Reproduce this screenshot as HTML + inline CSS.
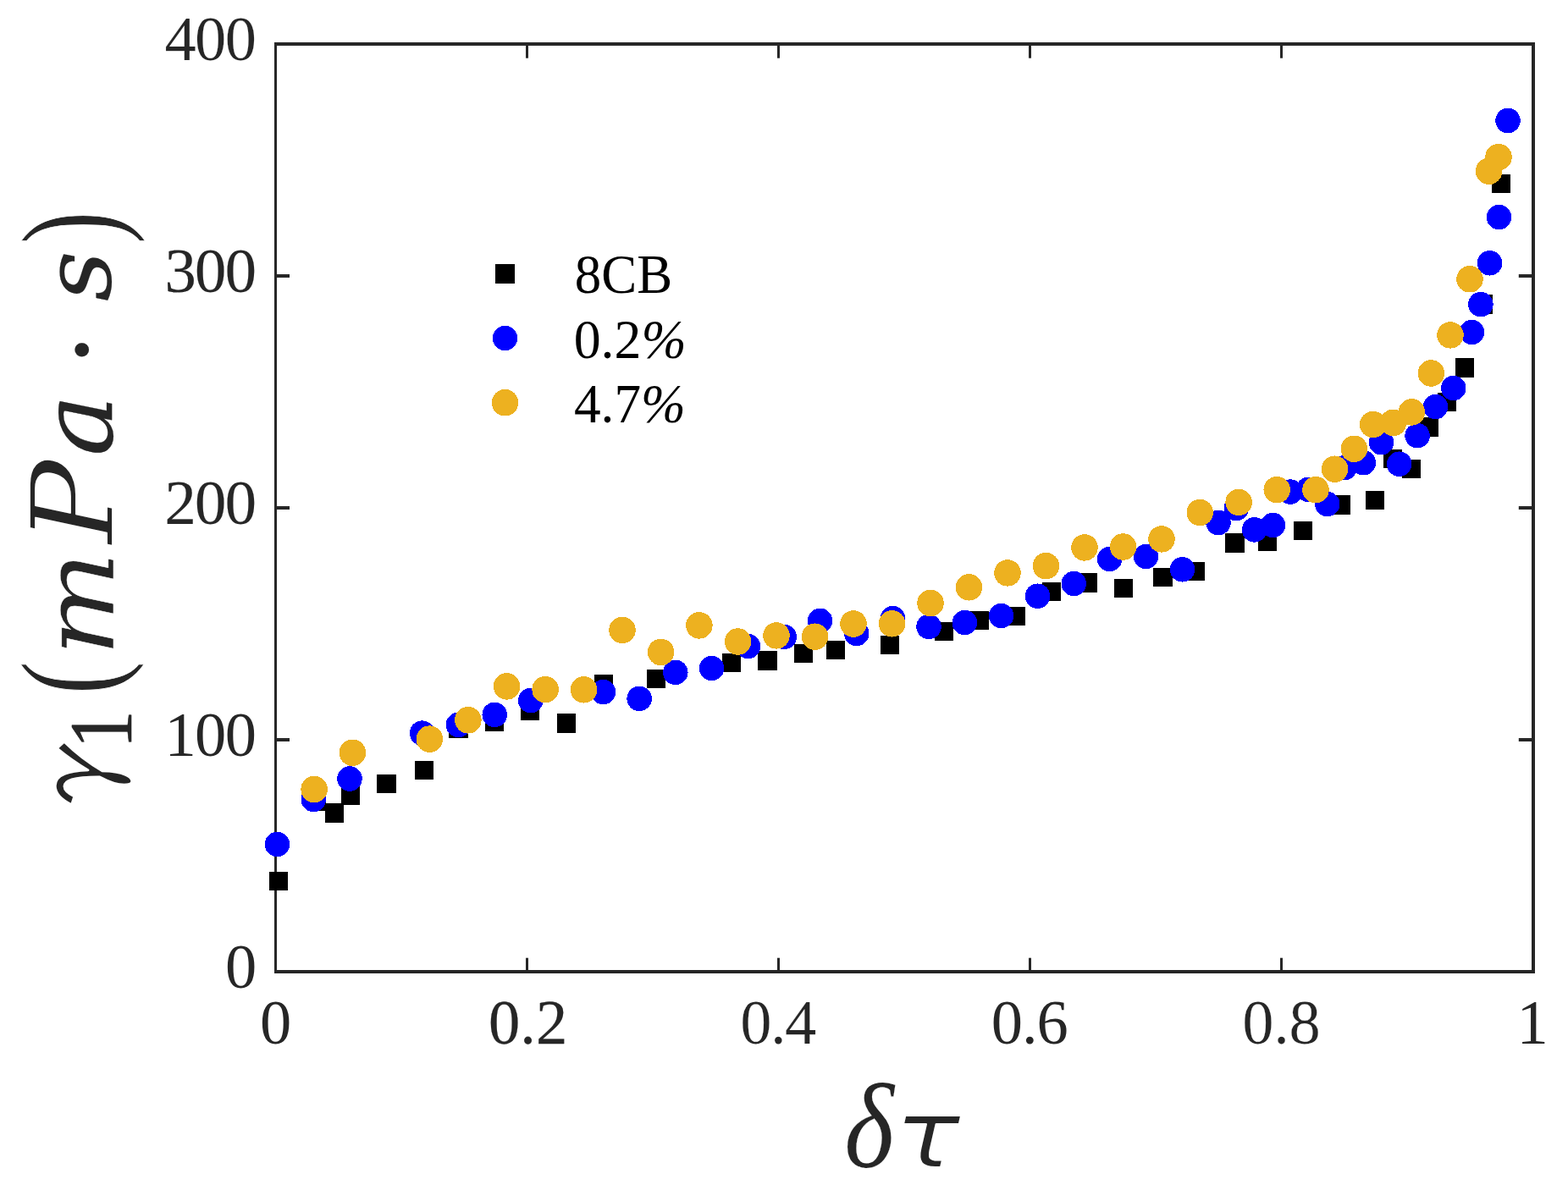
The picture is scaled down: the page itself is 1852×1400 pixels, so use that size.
<!DOCTYPE html>
<html lang="en"><head><meta charset="utf-8"><title>γ1 (mPa·s) vs δτ</title>
<style>html,body{margin:0;padding:0;background:#fff;}body{width:1852px;height:1400px;overflow:hidden;}svg{display:block;}text{font-family:'Liberation Serif', serif;}</style>
</head><body>
<svg width="1852" height="1400" viewBox="0 0 1852 1400">
<rect x="0" y="0" width="1852" height="1400" fill="#ffffff"/>
<g id="axes">
<rect x="324.00" y="50.00" width="3.00" height="1100.00" fill="#262626"/>
<rect x="1809.00" y="50.00" width="4.00" height="1100.00" fill="#262626"/>
<rect x="324.00" y="50.00" width="1489.00" height="4.00" fill="#262626"/>
<rect x="324.00" y="1146.00" width="1489.00" height="4.00" fill="#262626"/>
<rect x="621.00" y="1131.70" width="3.00" height="18.30" fill="#262626"/>
<rect x="621.00" y="50.00" width="3.00" height="18.70" fill="#262626"/>
<rect x="918.00" y="1131.70" width="3.00" height="18.30" fill="#262626"/>
<rect x="918.00" y="50.00" width="3.00" height="18.70" fill="#262626"/>
<rect x="1215.00" y="1131.70" width="3.00" height="18.30" fill="#262626"/>
<rect x="1215.00" y="50.00" width="3.00" height="18.70" fill="#262626"/>
<rect x="1512.00" y="1131.70" width="3.00" height="18.30" fill="#262626"/>
<rect x="1512.00" y="50.00" width="3.00" height="18.70" fill="#262626"/>
<rect x="324.00" y="324.00" width="18.00" height="4.00" fill="#262626"/>
<rect x="1793.80" y="324.00" width="19.20" height="4.00" fill="#262626"/>
<rect x="324.00" y="598.00" width="18.00" height="4.00" fill="#262626"/>
<rect x="1793.80" y="598.00" width="19.20" height="4.00" fill="#262626"/>
<rect x="324.00" y="872.00" width="18.00" height="4.00" fill="#262626"/>
<rect x="1793.80" y="872.00" width="19.20" height="4.00" fill="#262626"/>
</g>
<g id="series-8cb" fill="#000000" shape-rendering="crispEdges">
<rect x="317.8" y="1029.8" width="22.5" height="22.5"/>
<rect x="362.8" y="935.5" width="22.5" height="22.5"/>
<rect x="383.8" y="949.2" width="22.5" height="22.5"/>
<rect x="402.8" y="928.8" width="22.5" height="22.5"/>
<rect x="445.4" y="914.6" width="22.5" height="22.5"/>
<rect x="489.9" y="898.6" width="22.5" height="22.5"/>
<rect x="530.2" y="849.9" width="22.5" height="22.5"/>
<rect x="572.8" y="841.6" width="22.5" height="22.5"/>
<rect x="614.6" y="828.8" width="22.5" height="22.5"/>
<rect x="657.8" y="843.2" width="22.5" height="22.5"/>
<rect x="701.9" y="796.5" width="22.5" height="22.5"/>
<rect x="763.9" y="790.6" width="22.5" height="22.5"/>
<rect x="852.8" y="771.6" width="22.5" height="22.5"/>
<rect x="895.4" y="769.4" width="22.5" height="22.5"/>
<rect x="937.9" y="760.6" width="22.5" height="22.5"/>
<rect x="975.9" y="756.8" width="22.5" height="22.5"/>
<rect x="1039.8" y="750.8" width="22.5" height="22.5"/>
<rect x="1103.7" y="734.6" width="22.5" height="22.5"/>
<rect x="1145.8" y="721.8" width="22.5" height="22.5"/>
<rect x="1188.8" y="716.5" width="22.5" height="22.5"/>
<rect x="1230.7" y="687.8" width="22.5" height="22.5"/>
<rect x="1273.7" y="677.2" width="22.5" height="22.5"/>
<rect x="1315.8" y="683.6" width="22.5" height="22.5"/>
<rect x="1362.2" y="670.8" width="22.5" height="22.5"/>
<rect x="1400.8" y="663.9" width="22.5" height="22.5"/>
<rect x="1447.2" y="630.1" width="22.5" height="22.5"/>
<rect x="1485.8" y="628.5" width="22.5" height="22.5"/>
<rect x="1527.8" y="615.8" width="22.5" height="22.5"/>
<rect x="1572.8" y="585.1" width="22.5" height="22.5"/>
<rect x="1612.8" y="579.5" width="22.5" height="22.5"/>
<rect x="1633.5" y="530.8" width="22.5" height="22.5"/>
<rect x="1655.8" y="542.9" width="22.5" height="22.5"/>
<rect x="1676.8" y="493.1" width="22.5" height="22.5"/>
<rect x="1697.8" y="463.6" width="22.5" height="22.5"/>
<rect x="1718.8" y="423.4" width="22.5" height="22.5"/>
<rect x="1740.7" y="348.2" width="22.5" height="22.5"/>
<rect x="1761.8" y="205.8" width="22.5" height="22.5"/>
</g>
<g id="series-02" fill="#0000ff" shape-rendering="crispEdges">
<circle cx="327.4" cy="997.5" r="14.75"/>
<circle cx="370.3" cy="944.5" r="14.75"/>
<circle cx="413.0" cy="920.0" r="14.75"/>
<circle cx="498.6" cy="866.1" r="14.75"/>
<circle cx="541.4" cy="856.4" r="14.75"/>
<circle cx="584.2" cy="844.4" r="14.75"/>
<circle cx="626.7" cy="827.6" r="14.75"/>
<circle cx="712.5" cy="817.6" r="14.75"/>
<circle cx="755.1" cy="825.4" r="14.75"/>
<circle cx="797.8" cy="794.4" r="14.75"/>
<circle cx="840.6" cy="789.5" r="14.75"/>
<circle cx="883.6" cy="763.6" r="14.75"/>
<circle cx="926.3" cy="752.4" r="14.75"/>
<circle cx="968.6" cy="733.4" r="14.75"/>
<circle cx="1011.7" cy="748.5" r="14.75"/>
<circle cx="1054.5" cy="730.5" r="14.75"/>
<circle cx="1097.0" cy="740.4" r="14.75"/>
<circle cx="1139.4" cy="735.6" r="14.75"/>
<circle cx="1182.6" cy="727.5" r="14.75"/>
<circle cx="1225.5" cy="704.2" r="14.75"/>
<circle cx="1268.3" cy="689.5" r="14.75"/>
<circle cx="1310.6" cy="660.5" r="14.75"/>
<circle cx="1353.5" cy="657.5" r="14.75"/>
<circle cx="1396.5" cy="672.8" r="14.75"/>
<circle cx="1439.0" cy="617.5" r="14.75"/>
<circle cx="1460.3" cy="600.6" r="14.75"/>
<circle cx="1481.6" cy="625.9" r="14.75"/>
<circle cx="1503.5" cy="620.4" r="14.75"/>
<circle cx="1523.9" cy="581.1" r="14.75"/>
<circle cx="1545.3" cy="578.4" r="14.75"/>
<circle cx="1567.7" cy="595.5" r="14.75"/>
<circle cx="1588.0" cy="552.7" r="14.75"/>
<circle cx="1610.4" cy="546.7" r="14.75"/>
<circle cx="1631.5" cy="522.7" r="14.75"/>
<circle cx="1652.7" cy="548.2" r="14.75"/>
<circle cx="1674.1" cy="514.7" r="14.75"/>
<circle cx="1695.5" cy="480.6" r="14.75"/>
<circle cx="1716.7" cy="458.5" r="14.75"/>
<circle cx="1738.4" cy="392.5" r="14.75"/>
<circle cx="1748.9" cy="359.6" r="14.75"/>
<circle cx="1759.6" cy="310.8" r="14.75"/>
<circle cx="1770.5" cy="256.6" r="14.75"/>
<circle cx="1781.0" cy="142.5" r="14.75"/>
</g>
<g id="series-47" fill="#edb120" shape-rendering="crispEdges">
<circle cx="371.1" cy="932.5" r="15.75"/>
<circle cx="416.4" cy="889.3" r="15.75"/>
<circle cx="507.3" cy="873.1" r="15.75"/>
<circle cx="552.9" cy="850.8" r="15.75"/>
<circle cx="598.6" cy="810.9" r="15.75"/>
<circle cx="644.1" cy="814.6" r="15.75"/>
<circle cx="689.6" cy="814.8" r="15.75"/>
<circle cx="735.0" cy="744.4" r="15.75"/>
<circle cx="780.6" cy="770.5" r="15.75"/>
<circle cx="825.9" cy="738.9" r="15.75"/>
<circle cx="871.6" cy="758.0" r="15.75"/>
<circle cx="917.0" cy="750.9" r="15.75"/>
<circle cx="962.6" cy="752.2" r="15.75"/>
<circle cx="1008.0" cy="737.0" r="15.75"/>
<circle cx="1053.6" cy="736.8" r="15.75"/>
<circle cx="1099.0" cy="712.5" r="15.75"/>
<circle cx="1144.5" cy="693.8" r="15.75"/>
<circle cx="1190.0" cy="676.9" r="15.75"/>
<circle cx="1235.5" cy="668.6" r="15.75"/>
<circle cx="1281.0" cy="646.9" r="15.75"/>
<circle cx="1326.6" cy="646.0" r="15.75"/>
<circle cx="1372.0" cy="636.9" r="15.75"/>
<circle cx="1417.3" cy="605.5" r="15.75"/>
<circle cx="1463.1" cy="593.4" r="15.75"/>
<circle cx="1508.2" cy="578.7" r="15.75"/>
<circle cx="1554.0" cy="578.7" r="15.75"/>
<circle cx="1576.6" cy="554.2" r="15.75"/>
<circle cx="1599.4" cy="530.3" r="15.75"/>
<circle cx="1621.7" cy="501.5" r="15.75"/>
<circle cx="1645.6" cy="499.4" r="15.75"/>
<circle cx="1667.4" cy="486.9" r="15.75"/>
<circle cx="1690.3" cy="441.0" r="15.75"/>
<circle cx="1713.0" cy="395.9" r="15.75"/>
<circle cx="1736.0" cy="329.8" r="15.75"/>
<circle cx="1758.6" cy="202.3" r="15.75"/>
<circle cx="1770.0" cy="185.6" r="15.75"/>
</g>
<g id="legend">
<rect x="585" y="312" width="23" height="23" fill="#000" shape-rendering="crispEdges"/>
<circle cx="596.5" cy="399.5" r="14.75" fill="#0000ff" shape-rendering="crispEdges"/>
<circle cx="596.5" cy="475.7" r="15.75" fill="#edb120" shape-rendering="crispEdges"/>
<text transform="translate(678.79,346.20) scale(0.96,1)" font-size="65.5" fill="#000">8CB</text>
<text transform="translate(677.66,423.20) scale(0.976,1)" font-size="65.5" fill="#000">0.2<tspan font-style="italic">%</tspan></text>
<text transform="translate(677.93,499.40) scale(0.967,1)" font-size="65.5" fill="#000">4.7<tspan font-style="italic">%</tspan></text>
</g>
<g id="ticklabels" fill="#262626" font-size="74.5">
<text x="194.48" y="71" letter-spacing="-1.6" stroke="#ffffff" stroke-width="0.16" stroke-linejoin="round">400</text>
<text x="194.48" y="345" letter-spacing="-1.6" stroke="#262626" stroke-width="0.19" stroke-linejoin="round">300</text>
<text x="194.48" y="619" letter-spacing="-1.6" stroke="#262626" stroke-width="0.19" stroke-linejoin="round">200</text>
<text x="194.48" y="893" letter-spacing="-1.6">100</text>
<text x="265.88" y="1167">0</text>
<text x="306.90" y="1233">0</text>
<text x="577.08" y="1233" stroke="#262626" stroke-width="0.26" stroke-linejoin="round">0.2</text>
<text x="874.17" y="1233" letter-spacing="-1.48" stroke="#ffffff" stroke-width="0.22" stroke-linejoin="round">0.4</text>
<text x="1170.77" y="1233" letter-spacing="-1.08">0.6</text>
<text x="1467.27" y="1233" letter-spacing="-0.33" stroke="#ffffff" stroke-width="0.23" stroke-linejoin="round">0.8</text>
<text x="1791.45" y="1233">1</text>
</g>
<text id="xlabel" fill="#262626"><tspan x="997.28" y="1379.06" font-size="141.40" textLength="58.62" lengthAdjust="spacingAndGlyphs" font-style="italic" stroke="#ffffff" stroke-width="0.2" stroke-linejoin="round">δ</tspan><tspan x="1055.77" y="1379.21" font-size="110.30" textLength="78.99" lengthAdjust="spacingAndGlyphs" font-style="italic" style="font-family:'DejaVu Sans', 'Liberation Serif', serif" stroke="#ffffff" stroke-width="1.96" stroke-linejoin="round">τ</tspan></text>
<text id="ylabel" fill="#262626" transform="rotate(-90)"><tspan x="-976.36" y="142.65" font-size="142.20" textLength="125.70" lengthAdjust="spacingAndGlyphs" style="font-family:'IPAGothic', 'Liberation Serif', serif" stroke="#ffffff" stroke-width="3.21" stroke-linejoin="round">γ</tspan><tspan x="-884.35" y="154.85" font-size="104.80" textLength="45.00" lengthAdjust="spacingAndGlyphs" stroke="#262626" stroke-width="0.62" stroke-linejoin="round">1</tspan><tspan x="-820.65" y="135.73" font-size="161.90" textLength="39.83" lengthAdjust="spacingAndGlyphs" stroke="#ffffff" stroke-width="1.05" stroke-linejoin="round">(</tspan><tspan x="-775.41" y="134.39" font-size="117.10" textLength="124.41" lengthAdjust="spacingAndGlyphs" font-style="italic" style="font-family:'DejaVu Serif', 'Liberation Serif', serif" stroke="#ffffff" stroke-width="0.46" stroke-linejoin="round">m</tspan><tspan x="-642.72" y="132.97" font-size="133.90" textLength="100.05" lengthAdjust="spacingAndGlyphs" font-style="italic" style="font-family:'DejaVu Serif', 'Liberation Serif', serif" stroke="#ffffff" stroke-width="1.87" stroke-linejoin="round">P</tspan><tspan x="-538.96" y="132.33" font-size="117.90" textLength="73.15" lengthAdjust="spacingAndGlyphs" font-style="italic" style="font-family:'DejaVu Serif', 'Liberation Serif', serif" stroke="#262626" stroke-width="0.27" stroke-linejoin="round">a</tspan><tspan x="-436.04" y="142.91" font-size="139.00" textLength="45.39" lengthAdjust="spacingAndGlyphs" stroke="#262626" stroke-width="0.25" stroke-linejoin="round">·</tspan><tspan x="-356.11" y="130.40" font-size="111.70" textLength="59.74" lengthAdjust="spacingAndGlyphs" font-style="italic" style="font-family:'DejaVu Serif', 'Liberation Serif', serif" stroke="#262626" stroke-width="0.23" stroke-linejoin="round">s</tspan><tspan x="-287.98" y="137.23" font-size="162.00" textLength="38.30" lengthAdjust="spacingAndGlyphs" stroke="#ffffff" stroke-width="0.92" stroke-linejoin="round">)</tspan></text>
</svg>
</body></html>
